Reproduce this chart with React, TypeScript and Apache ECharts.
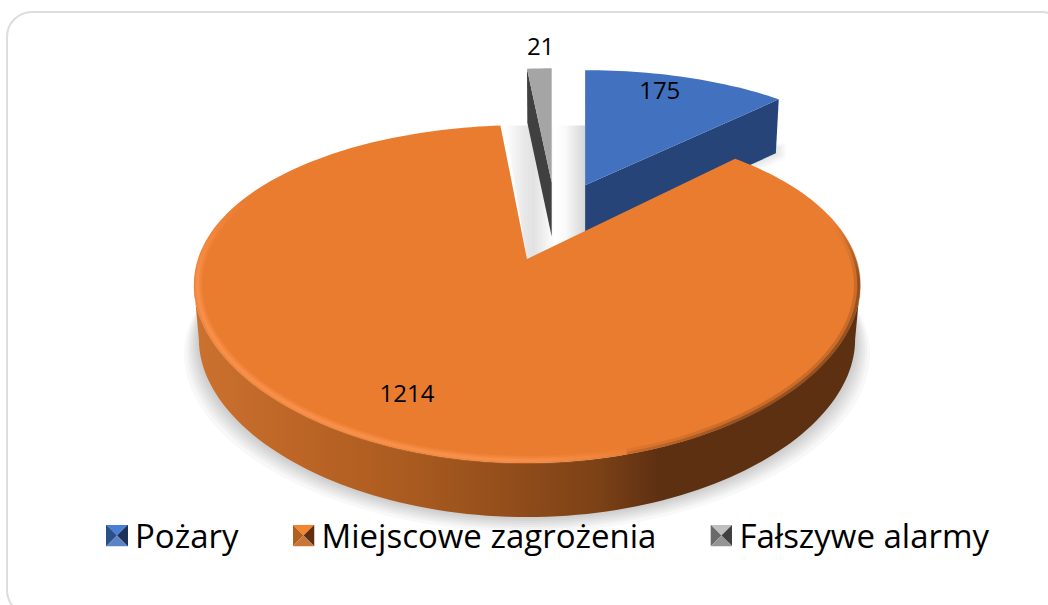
import React, { useEffect, useRef } from "react";
import * as echarts from "echarts";

const categories = ["Pożary", "Miejscowe zagrożenia", "Fałszywe alarmy"];
const values = [175, 1214, 21];

const faceColors = ["#4271C0", "#EA7C30", "#A5A5A5"];
const wallColors = ["#264478", "#7C4116", "#404040"];
const iconTones = [
  ["#4A7FD6", "#2B4F87", "#1C3058", "#5B83C6"],
  ["#F5842F", "#B0601F", "#5E2F10", "#C9763A"],
  ["#BFBFBF", "#6A6A6A", "#404040", "#959595"],
];
const labelRadius = [0.85, 0.777, 1.25];
const labelTurn = [-3.5, 5, 0.7];
const shadowSpread = [15, 12, 10, 8, 6, 4, 2];

const FONT = '"Open Sans", sans-serif';
const EXPLODE = 0.27;
const PY = 0.207;
const PX = 0.157;
const RX = 329;
const RY = 161.8;
const SHIFT_X = 290;
const NUDGE_X = 2;
const FAR_STRETCH = 1.035;
const OX = 527;
const OY = 259;
const DEPTH = 54;
const RAD = Math.PI / 180;

const total = values.reduce((a, b) => a + b, 0);
const spans = values.map((_, i) => {
  const before = values.slice(0, i).reduce((a, b) => a + b, 0);
  return [(before / total) * 360, ((before + values[i]) / total) * 360];
});
const mids = spans.map(([a, b]) => (a + b) / 2);
const baseIndex = values.indexOf(Math.max(...values));

function offset(i: number) {
  const m = mids[i] * RAD;
  const b = mids[baseIndex] * RAD;
  return [EXPLODE * (Math.sin(m) - Math.sin(b)), EXPLODE * (-Math.cos(m) + Math.cos(b))];
}
function project(i: number, deg: number, r: number) {
  const [du, dv] = offset(i);
  const far = i === baseIndex ? 1 : FAR_STRETCH;
  const nudge = i === baseIndex ? 0 : NUDGE_X;
  const u = r * Math.sin(deg * RAD);
  const v = dv - far * r * Math.cos(deg * RAD);
  return [OX + nudge + du * SHIFT_X + (u * RX) / (1 - PX * v), OY + (v * RY) / (1 - PY * v)];
}
function lower(i: number, p: number[]) {
  const apex = project(i, 0, 0);
  return [apex[0] + (p[0] - apex[0]) * 0.985, p[1] + DEPTH];
}
function arc(i: number, from: number, to: number, r = 1) {
  const n = Math.max(2, Math.ceil(Math.abs(to - from) / 1.5));
  const pts: number[][] = [];
  for (let k = 0; k <= n; k++) pts.push(project(i, from + ((to - from) * k) / n, r));
  return pts;
}
function hGrad(x: number, x2: number, stops: [number, string][]) {
  return {
    type: "linear", x, y: 0, x2, y2: 0, global: true,
    colorStops: stops.map(([offset, color]) => ({ offset, color })),
  };
}
function vGrad(y: number, y2: number, stops: [number, string][]) {
  return {
    type: "linear", x: 0, y, x2: 0, y2, global: true,
    colorStops: stops.map(([offset, color]) => ({ offset, color })),
  };
}
function iconFor(t: string[]) {
  const svg = `<svg xmlns="http://www.w3.org/2000/svg" width="22" height="22"><polygon points="0,0 22,0 11,11" fill="${t[0]}"/><polygon points="0,0 0,22 11,11" fill="${t[1]}"/><polygon points="22,0 22,22 11,11" fill="${t[2]}"/><polygon points="0,22 22,22 11,11" fill="${t[3]}"/></svg>`;
  return "image://data:image/svg+xml;charset=utf-8," + encodeURIComponent(svg);
}

function bevelStrokes(i: number) {
  const out: any[] = [];
  const layers: [number, number, number][] = [
    [8, 0.988, 0.25],
    [5, 0.989, 0.35],
    [2.5, 0.99, 0.4],
  ];
  layers.forEach(([w, r, a]) => {
    const on = `rgba(255,152,84,${a})`;
    const off = "rgba(255,152,84,0)";
    out.push({
      type: "polyline",
      shape: { points: arc(i, 255, 312, r) },
      style: { fill: "none", lineWidth: w, lineCap: "butt", stroke: vGrad(200, 285, [[0, off], [1, on]]) },
    });
    out.push({
      type: "polyline",
      shape: { points: arc(i, 140, 255, r) },
      style: { fill: "none", lineWidth: w, lineCap: "butt", stroke: hGrad(192, 640, [[0, on], [0.72, on], [1, off]]) },
    });
  });
  const darkLayers: [number, number, number][] = [
    [7, 0.992, 0.25],
    [3, 0.996, 0.55],
  ];
  darkLayers.forEach(([w, r, a]) => {
    const on = `rgba(110,58,20,${a})`;
    const off = "rgba(110,58,20,0)";
    out.push({
      type: "polyline",
      shape: { points: arc(i, 60, 165, r) },
      style: {
        fill: "none", lineWidth: w, lineCap: "butt",
        stroke: vGrad(225, 470, [[0, off], [0.22, on], [0.8, on], [1, off]]),
      },
    });
  });
  return out;
}

function sliceChildren(i: number) {
  const [a, b] = spans[i];
  const apex = project(i, 0, 0);
  const rim = arc(i, a, b);
  const face = [apex, ...rim];
  const children: any[] = [];
  const isBase = i === baseIndex;
  if (isBase) {
    const top = arc(i, 99, 261);
    const bottom = top.map((p) => lower(i, p)).reverse();
    children.push({
      type: "polygon",
      shape: { points: [...top, ...bottom] },
      style: {
        fill: hGrad(192, 858, [
          [0, "#CC7230"], [0.16, "#BC6526"], [0.31, "#AC5C20"], [0.46, "#954F1B"],
          [0.61, "#7C4116"], [0.7, "#5E3012"], [1, "#5E3012"],
        ]),
      },
    });
  } else {
    const edge = i === 0 ? b : a;
    const tip = project(i, edge, 1);
    children.push({
      type: "polygon",
      shape: { points: [apex, tip, lower(i, tip), lower(i, apex)] },
      style: { fill: wallColors[i] },
    });
  }
  children.push({ type: "polygon", shape: { points: face }, style: { fill: faceColors[i] } });
  if (isBase) children.push(...bevelStrokes(i));
  const lab = project(i, mids[i] + labelTurn[i], labelRadius[i]);
  children.push({
    type: "text",
    style: {
      text: String(values[i]), x: lab[0], y: lab[1], fill: "#000", font: `24px ${FONT}`,
      align: "center", verticalAlign: "middle",
    },
  });
  return children;
}

function shadowChildren() {
  const baseRim = arc(baseIndex, 72, 288).map((p) => lower(baseIndex, p));
  const blueTip = lower(0, project(0, spans[0][1], 1));
  const blueApex = lower(0, project(0, 0, 0));
  const base = project(baseIndex, 0, 0);
  const topY = project(baseIndex, spans[baseIndex][1], 1)[1];
  const halos = shadowSpread.map((e) => ({
    type: "polygon",
    shape: {
      points: baseRim.map((p) => [base[0] + (p[0] - base[0]) * (1 + e / 330), p[1] + e]),
    },
    style: { fill: "rgba(0,0,0,0.028)" },
  }));
  const blueHalos = shadowSpread.slice(2).map((e) => ({
    type: "polygon",
    shape: {
      points: [
        [blueApex[0], blueApex[1]],
        [blueTip[0] + e, blueTip[1] - 10],
        [blueTip[0] + e, blueTip[1] + e * 0.5],
        [blueApex[0], blueApex[1] + e],
      ],
    },
    style: { fill: "rgba(0,0,0,0.02)" },
  }));
  return [
    ...halos,
    ...blueHalos,
    {
      type: "polygon",
      shape: { points: [[base[0] - 22, topY], [blueApex[0], topY], [blueApex[0], blueApex[1]], base] },
      style: {
        fill: hGrad(base[0] - 22, blueApex[0], [
          [0, "#ffffff"], [0.24, "#e8e8e8"], [0.36, "#e2e2e2"], [0.62, "#ffffff"], [0.75, "#fafafa"], [1, "#d6d6d6"],
        ]),
      },
    },
  ];
}

export default function App() {
  const ref = useRef<HTMLDivElement>(null);
  useEffect(() => {
    document.body.style.margin = "0";
    const chart = echarts.init(ref.current!, null, { renderer: "svg" });
    const drawOrder = values.map((_, i) => i).sort((x, y) => (x === baseIndex ? 1 : 0) - (y === baseIndex ? 1 : 0));
    chart.setOption({
      animation: false,
      backgroundColor: "#ffffff",
      graphic: [
        {
          type: "rect", z: -10, silent: true,
          shape: { x: 7, y: 12, width: 1060, height: 603, r: 25 },
          style: { fill: "#ffffff", stroke: "#dddddd", lineWidth: 2 },
        },
      ],
      legend: {
        left: 106, top: 519, padding: 0, itemWidth: 22, itemHeight: 22, itemGap: 54, selectedMode: false,
        textStyle: { fontFamily: FONT, fontSize: 33, color: "#000", padding: [0, 0, 0, 2] },
        data: categories.map((name, i) => ({ name, icon: iconFor(iconTones[i]) })),
      },
      series: [
        {
          type: "custom", name: "cień", coordinateSystem: "none", silent: true, clip: false,
          data: [[0]],
          renderItem: () => ({ type: "group", children: shadowChildren() }),
        },
        ...drawOrder.map((i) => ({
          type: "custom", name: categories[i], coordinateSystem: "none", silent: true, clip: false,
          data: [[values[i]]],
          itemStyle: { color: faceColors[i] },
          renderItem: () => ({ type: "group", children: sliceChildren(i) }),
        })),
      ],
    });
    return () => chart.dispose();
  }, []);
  return <div ref={ref} style={{ width: 1048, height: 605 }} />;
}
